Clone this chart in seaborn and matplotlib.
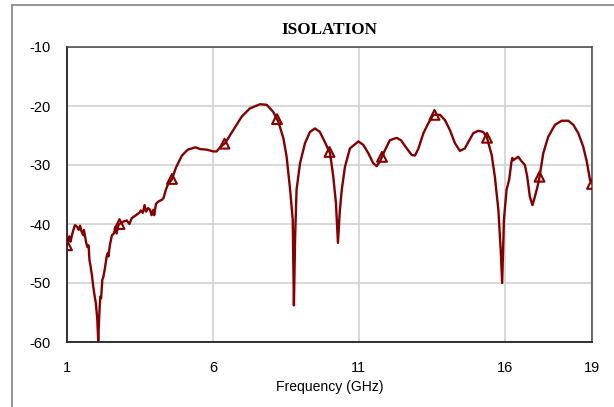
import numpy as np
import pandas as pd
import matplotlib
matplotlib.use("Agg")
import matplotlib.pyplot as plt
import seaborn as sns
from matplotlib.lines import Line2D

freq = [1.00, 1.04, 1.08, 1.12, 1.17, 1.22, 1.27, 1.35, 1.40, 1.45, 1.50, 1.56, 1.58, 1.65,
        1.70, 1.74, 1.77, 1.81, 1.86, 1.90, 1.95, 1.99, 2.04, 2.07, 2.11, 2.14, 2.17, 2.21,
        2.25, 2.30, 2.36, 2.40, 2.42, 2.47, 2.54, 2.61, 2.66, 2.70, 2.76, 2.82, 2.93, 3.05,
        3.14, 3.22, 3.34, 3.42, 3.48, 3.53, 3.60, 3.66, 3.71, 3.78, 3.85, 3.90, 3.96, 3.99,
        4.05, 4.13, 4.25, 4.31, 4.39, 4.47, 4.59, 4.74, 4.94, 5.14, 5.41, 5.56, 5.79, 6.02,
        6.13, 6.25, 6.42, 6.70, 6.99, 7.27, 7.62, 7.85, 8.07, 8.25, 8.42, 8.53, 8.65, 8.74,
        8.78, 8.82, 8.87, 8.99, 9.16, 9.33, 9.50, 9.67, 9.84, 10.02, 10.13, 10.22, 10.29,
        10.35, 10.42, 10.53, 10.70, 10.99, 11.16, 11.33, 11.50, 11.62, 11.73, 11.90, 12.07,
        12.30, 12.45, 12.65, 12.82, 12.93, 13.05, 13.22, 13.39, 13.56, 13.79, 13.96, 14.13,
        14.30, 14.47, 14.64, 14.76, 14.93, 15.10, 15.27, 15.39, 15.56, 15.67, 15.79, 15.87,
        15.92, 15.98, 16.07, 16.16, 16.24, 16.27, 16.30, 16.47, 16.59, 16.70, 16.78, 16.87,
        16.96, 17.04, 17.12, 17.19, 17.33, 17.50, 17.73, 17.96, 18.19, 18.36, 18.53, 18.70,
        18.82, 18.93, 19.00]
isolation = [-43.6, -42.6, -42.1, -43.0, -41.9, -41.0, -40.2, -40.5, -41.0, -40.3, -41.3, -41.9,
             -41.0, -43.0, -43.9, -43.6, -46.1, -47.2, -48.9, -50.6, -52.3, -53.4, -56.3, -59.8,
             -55.1, -52.3, -52.6, -49.5, -48.9, -47.5, -45.5, -44.9, -45.5, -43.6, -41.9, -41.6,
             -40.5, -41.6, -40.2, -39.9, -39.6, -39.4, -40.0, -39.0, -38.6, -38.3, -38.1, -37.7,
             -38.1, -36.8, -37.9, -37.3, -37.6, -38.5, -37.6, -38.5, -36.6, -36.2, -35.9, -35.6,
             -34.2, -33.2, -32.5, -30.4, -28.4, -27.4, -27.0, -27.3, -27.4, -27.7, -27.7, -27.0,
             -26.3, -24.1, -21.8, -20.4, -19.7, -19.8, -21.0, -22.7, -25.5, -28.6, -34.2, -39.3,
             -53.8, -42.5, -34.2, -29.7, -26.3, -24.4, -23.8, -24.4, -26.1, -28.0, -32.0, -36.4,
             -43.2, -38.0, -34.2, -30.3, -27.2, -26.0, -26.6, -28.0, -29.7, -30.2, -29.4, -27.5,
             -25.8, -25.4, -25.8, -27.2, -28.3, -28.4, -27.2, -24.6, -22.9, -21.5, -21.5, -22.4,
             -24.1, -26.3, -27.6, -27.2, -26.1, -24.6, -24.2, -24.4, -25.2, -28.3, -32.0, -37.6,
             -44.4, -50.0, -39.3, -34.2, -32.5, -29.4, -28.8, -29.2, -28.6, -29.4, -30.0, -32.0,
             -35.4, -36.8, -35.4, -33.9, -32.3, -28.0, -25.2, -23.2, -22.5, -22.5, -23.2, -24.6,
             -26.9, -29.4, -32.5, -33.2]
marker_freq = [1.0, 2.8, 4.6, 6.4, 8.2, 10.0, 11.8, 13.6, 15.4, 17.2, 19.0]
x_ticks = [1, 6, 11, 16, 19]
y_ticks = [-60, -50, -40, -30, -20, -10]

df = pd.DataFrame({"Frequency (GHz)": freq, "Isolation": isolation})
mk = pd.DataFrame({"Frequency (GHz)": marker_freq,
                   "Isolation": np.interp(marker_freq, freq, isolation)})

sns.set_theme(style="white")
plt.rcParams["font.family"] = ["Liberation Sans", "DejaVu Sans"]
plt.rcParams["text.color"] = "black"
plt.rcParams["axes.labelcolor"] = "black"
plt.rcParams["axes.titlecolor"] = "black"

color = "#840000"
fig = plt.figure(figsize=(6.14, 4.07), dpi=100)
ax = fig.add_axes([67/614, 65/407, 525/614, 295/407])

sns.lineplot(data=df, x="Frequency (GHz)", y="Isolation", ax=ax, color=color,
             linewidth=1.7, sort=False)
sns.scatterplot(data=mk, x="Frequency (GHz)", y="Isolation", ax=ax, marker="^",
                s=50, facecolor="none", edgecolor=color, linewidth=1.5, zorder=5)

ax.set_xlim(1, 19)
ax.set_ylim(-60, -10)
ax.set_xticks(x_ticks)
ax.set_yticks(y_ticks)
ax.set_xticklabels([str(t) for t in x_ticks])
ax.set_yticklabels([str(t) for t in y_ticks])
ax.grid(True, color="#d4d4d4", linewidth=1.3)
ax.set_axisbelow(True)
ax.tick_params(axis="both", length=0, labelsize=10.5, colors="black")
ax.tick_params(axis="x", pad=14)
ax.tick_params(axis="y", pad=12)
ax.set_xlabel("Frequency (GHz)", fontsize=10.1, labelpad=3, color="black")
ax.set_ylabel("")
ax.set_title("ISOLATION", fontsize=12.3, fontweight="bold", color="black",
             family=["Liberation Serif", "DejaVu Serif"], pad=9)
for side in ["left", "bottom"]:
    ax.spines[side].set_color("#222222")
    ax.spines[side].set_linewidth(1.3)
for side in ["top", "right"]:
    ax.spines[side].set_color("#444444")
    ax.spines[side].set_linewidth(1.1)

# outer chart-area border (left and top edges visible)
fig.add_artist(Line2D([12/614, 12/614], [0, 1 - 5/407], transform=fig.transFigure,
                      color="#8a8a8a", linewidth=1.3))
fig.add_artist(Line2D([12/614, 1], [1 - 5/407, 1 - 5/407], transform=fig.transFigure,
                      color="#8a8a8a", linewidth=1.3))

fig.savefig("out.png", dpi=100)
